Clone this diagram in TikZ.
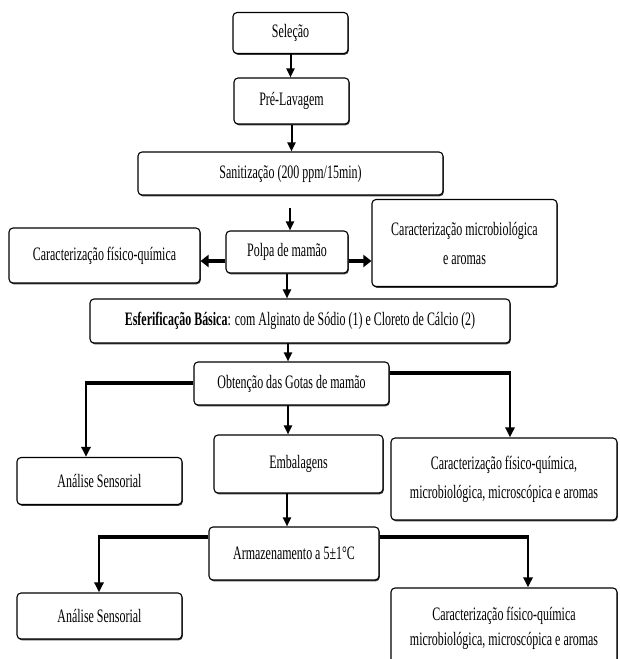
\documentclass[tikz,border=0pt]{standalone}
\usepackage{fontspec}
\setmainfont[FakeStretch=0.63]{Liberation Serif}
\usetikzlibrary{arrows.meta,shadows}
\begin{document}
\begin{tikzpicture}[x=1pt,y=-1pt,
  box/.style={draw, line width=1.1pt, rounded corners=4pt, fill=white, align=center, inner sep=0pt,
    font=\fontsize{19}{29}\selectfont,
    drop shadow={shadow xshift=0.8pt, shadow yshift=-1.3pt, fill=black!75, opacity=1}},
  varrow/.style={line width=2pt, -{Triangle[length=9pt,width=8pt]}},
  sarrow/.style={line width=3.5pt, -{Triangle[length=8pt,width=12pt]}},
  hline/.style={line width=4pt},
  brarrow/.style={line width=2.6pt, -{Triangle[length=10pt,width=9pt]}}]
\useasboundingbox (0,0) rectangle (619,659);
\node[box, minimum width=115pt, minimum height=41pt] (sel) at (290.5,33) {Seleção};
\node[box, minimum width=115pt, minimum height=46pt] (pre) at (291.5,101) {Pré-Lavagem};
\node[box, minimum width=305pt, minimum height=43pt] (san) at (290.5,173.5) {Sanitização (200 ppm/15min)};
\node[box, minimum width=185pt, minimum height=87pt] (mic) at (464.5,243) {Caracterização microbiológica\\e aromas};
\node[box, minimum width=191pt, minimum height=55pt] (fq) at (104.5,255.5) {Caracterização físico-química};
\node[box, minimum width=122pt, minimum height=42pt] (polpa) at (287,252) {Polpa de mamão};
\node[box, minimum width=420pt, minimum height=44pt] (esf) at (300,321) {\textbf{Esferificação Básica}: com Alginato de Sódio (1) e Cloreto de Cálcio (2)};
\node[box, minimum width=195pt, minimum height=43pt] (obt) at (291.5,383.5) {Obtenção das Gotas de mamão};
\node[box, minimum width=165pt, minimum height=47pt] (as1) at (99.5,481) {Análise Sensorial};
\node[box, minimum width=169pt, minimum height=58pt] (emb) at (298.5,464) {Embalagens};
\node[box, minimum width=226pt, minimum height=82pt] (c3) at (504,479) {Caracterização físico-química,\\microbiológica, microscópica e aromas};
\node[box, minimum width=170pt, minimum height=53pt] (arm) at (294,553.5) {Armazenamento a 5±1°C};
\node[box, minimum width=165pt, minimum height=46pt] (as2) at (99.5,616) {Análise Sensorial};
\node[box, minimum width=226pt, minimum height=80pt] (c4) at (504,628) {Caracterização físico-química\\[-4pt]microbiológica, microscópica e aromas};
% main vertical arrows
\draw[varrow] (sel.south) -- (sel.south |- pre.north);
\draw[varrow] (pre.south) -- (pre.south |- san.north);
\coordinate (sp) at (290,208);
\draw[varrow] (sp) -- (sp |- polpa.north);
\draw[varrow] (polpa.south) -- (polpa.south |- esf.north);
\coordinate (eo) at (288,343);
\draw[varrow] (eo) -- (eo |- obt.north);
\coordinate (oe) at (288,405);
\draw[varrow] (oe) -- (oe |- emb.north);
\coordinate (ea) at (287,493);
\draw[varrow] (ea) -- (ea |- arm.north);
% Polpa side arrows
\draw[sarrow] ([yshift=-9pt]polpa.west) -- ([yshift=-9pt]polpa.west -| fq.east);
\draw[sarrow] ([yshift=-9pt]polpa.east) -- ([yshift=-9pt]polpa.east -| mic.west);
% Obtencao branches
\coordinate (ol) at (86,383);
\coordinate (or) at (510,373);
\draw[hline] (obt.west |- ol) -- ([xshift=-1.3pt]ol);
\draw[brarrow] ([yshift=2pt]ol) -- (ol |- as1.north);
\draw[hline] (obt.east |- or) -- ([xshift=1.3pt]or);
\draw[brarrow] ([yshift=2pt]or) -- (or |- c3.north);
% Armazenamento branches
\coordinate (al) at (99,537);
\coordinate (ar) at (528,537);
\draw[hline] (arm.west |- al) -- ([xshift=-1.3pt]al);
\draw[brarrow] ([yshift=2pt]al) -- (al |- as2.north);
\draw[hline] (arm.east |- ar) -- ([xshift=1.3pt]ar);
\draw[brarrow] ([yshift=2pt]ar) -- (ar |- c4.north);
\end{tikzpicture}
\end{document}
